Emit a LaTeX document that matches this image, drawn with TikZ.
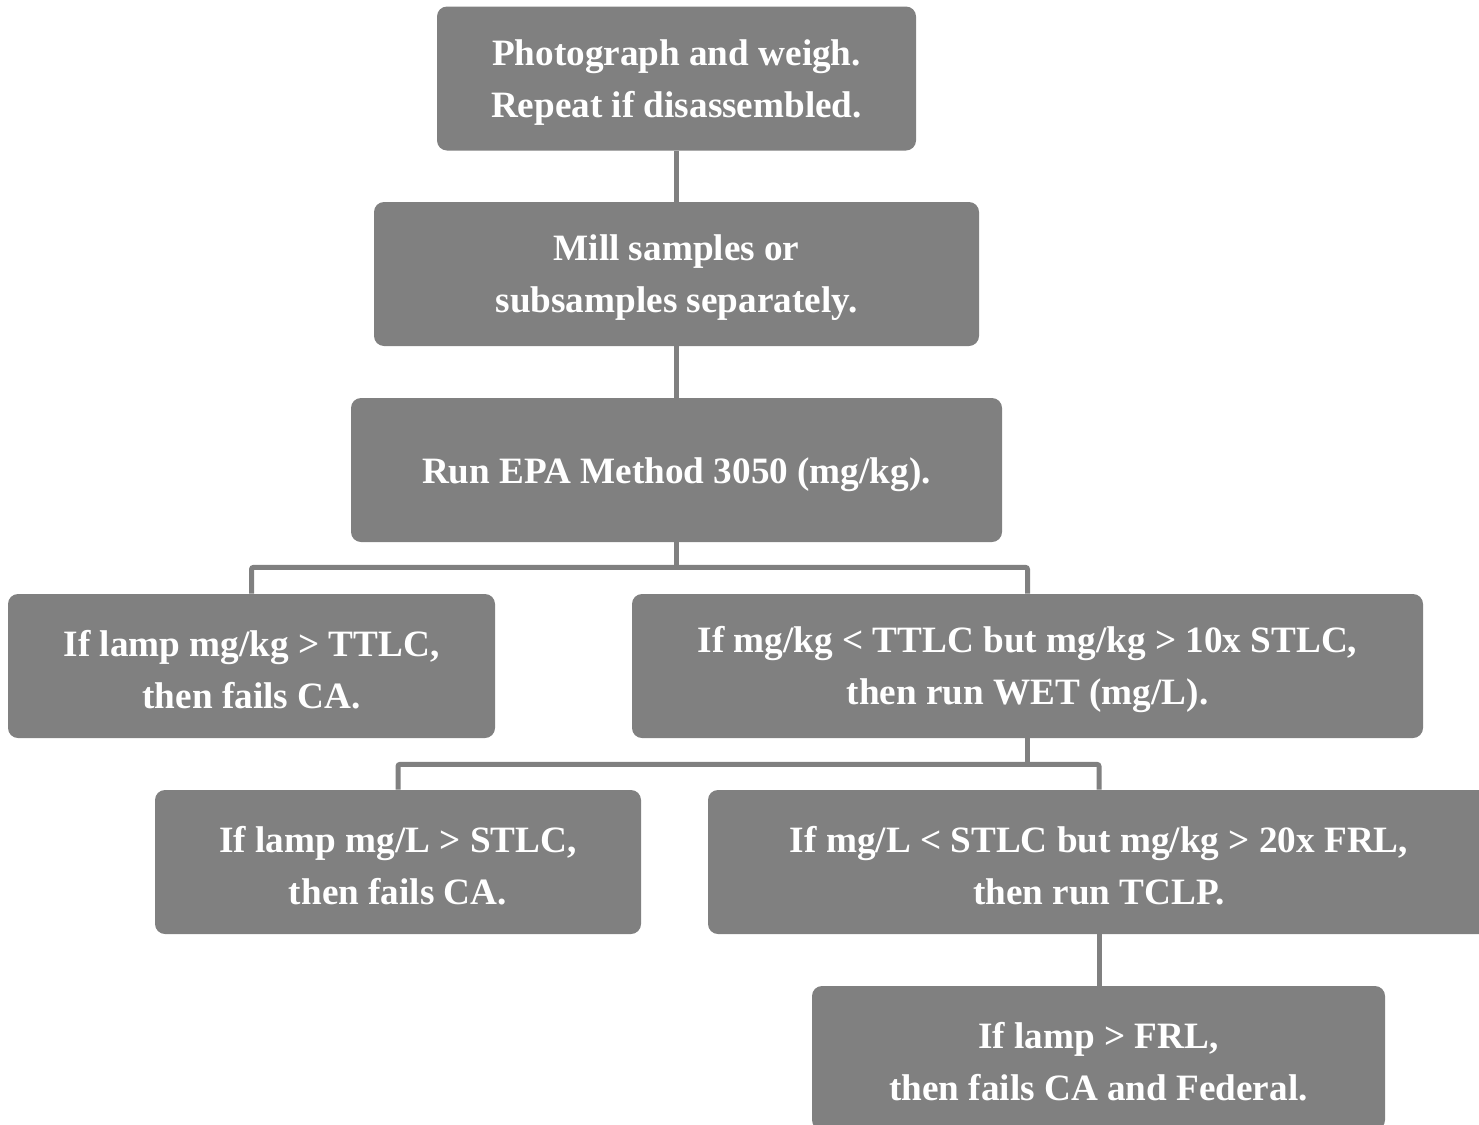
\documentclass[tikz,border=0pt]{standalone}
\usepackage{fontspec}
\setmainfont{Liberation Serif}
\usepackage{xcolor}
\definecolor{boxgray}{HTML}{808080}
\newcommand{\toprow}{\rule{0pt}{16.5pt}}

\begin{document}
\begin{tikzpicture}[x=0.5pt, y=-0.5pt,
        stepbox/.style={rectangle, rounded corners=5pt, fill=boxgray, text=white,
            font=\fontsize{18.6}{26}\selectfont\bfseries, align=center,
            minimum height=72pt, inner sep=0pt},
        link/.style={draw=boxgray, line width=2.5pt, rounded corners=1pt}]
        \useasboundingbox (0,0) rectangle (1479,1125);
        \clip (0,0) rectangle (1479,1125);

        % Preparation steps
        \node[stepbox, minimum width=239.5pt] (photo) at (676.5,78.5) {\toprow Photograph and weigh.\\Repeat if disassembled.};
        \node[stepbox, minimum width=302.5pt] (mill) at (676.5,274) {\toprow Mill samples or\\subsamples separately.};
        \node[stepbox, minimum width=325.5pt] (epa) at (676.5,470) {\rule{0pt}{17.5pt}Run EPA Method 3050 (mg/kg).};

        % TTLC level
        \node[stepbox, minimum width=243.5pt] (lampkg) at (251.5,666) {\toprow If lamp mg/kg > TTLC,\\then fails CA.};
        \node[stepbox, minimum width=395.5pt] (wet) at (1027.5,666) {\toprow If mg/kg < TTLC but mg/kg > 10x STLC,\\then run WET (mg/L).};

        % STLC level
        \node[stepbox, minimum width=243pt] (lampl) at (398,862) {\toprow If lamp mg/L > STLC,\\then fails CA.};
        \node[stepbox, minimum width=391pt] (tclp) at (1099,862) {\toprow If mg/L < STLC but mg/kg > 20x FRL,\\then run TCLP.};

        % FRL level
        \node[stepbox, minimum width=286.5pt] (federal) at (1098.5,1058) {\toprow If lamp > FRL,\\then fails CA and Federal.};

        % Connectors
        \draw[link] (photo) -- (mill);
        \draw[link] (mill) -- (epa);
        \path (epa.south) ++(0,25) coordinate (fork1);
        \draw[link] (epa.south) -- (fork1);
        \draw[link] (lampkg.north) |- (fork1) -| (wet.north);
        \path (wet.south) ++(0,26) coordinate (fork2);
        \draw[link] (wet.south) -- (fork2);
        \draw[link] (lampl.north) |- (fork2) -| (tclp.north);
        \draw[link] (tclp.south) -- (tclp.south |- federal.north);
    \end{tikzpicture}
\end{document}
